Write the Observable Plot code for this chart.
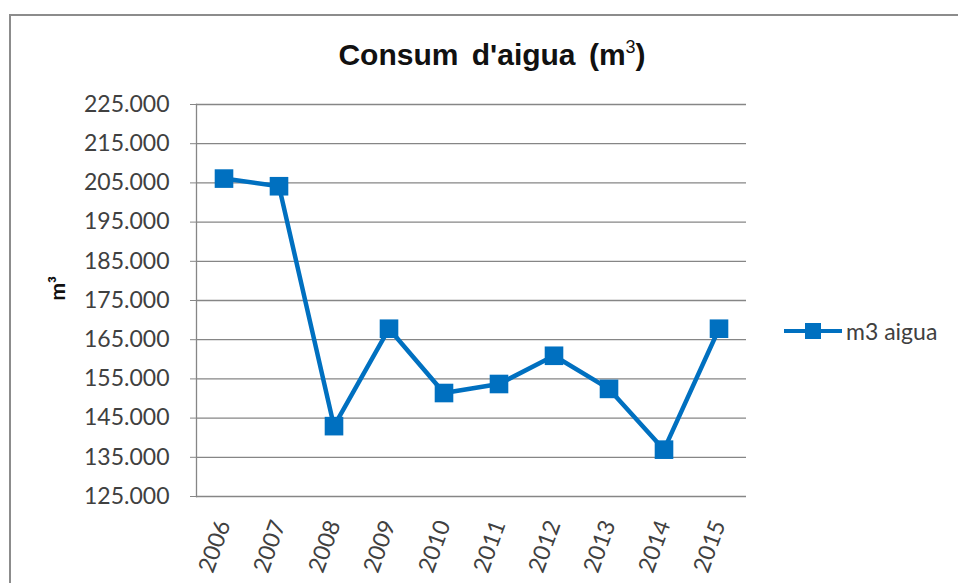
<!DOCTYPE html>
<html>
<head>
<meta charset="utf-8">
<script src="https://cdn.jsdelivr.net/npm/d3@7"></script>
<script src="https://cdn.jsdelivr.net/npm/@observablehq/plot@0.6"></script>
<style>
  html, body { margin: 0; padding: 0; background: #fff; overflow: hidden; }
  #wrap { position: relative; width: 958px; height: 583px; overflow: hidden; }
  #border { position: absolute; left: 9px; top: 14px; width: 1000px; height: 700px; border: 2px solid #8c8c8c; box-sizing: border-box; }
  #title { position: absolute; left: 0; width: 984px; top: 38px; text-align: center; font-family: "Liberation Sans", Arial, sans-serif; font-weight: bold; font-size: 30px; word-spacing: 5px; color: #111; line-height: 34px; }
  #title sup { font-size: 18px; font-weight: normal; vertical-align: 12px; line-height: 0; }
  #legend { position: absolute; left: 784px; top: 317px; display: flex; align-items: center; font-family: Lato, "Open Sans", sans-serif; font-size: 23px; color: #404040; }
  #chart { position: absolute; left: 0; top: 0; }
</style>
</head>
<body>
<div id="wrap">
  <div id="border"></div>
  <div id="chart"></div>
  <div id="title">Consum d'aigua (m<sup>3</sup>)</div>
  <div id="legend">
    <svg width="58" height="20" style="margin-right:4px"><line x1="0" y1="10" x2="58" y2="10" stroke="#0070C0" stroke-width="4"/><rect x="21" y="2" width="16" height="16" fill="#0070C0"/></svg>
    <span>m3 aigua</span>
  </div>
</div>
<script>
const years = ["2006","2007","2008","2009","2010","2011","2012","2013","2014","2015"];
const values = [206100, 204150, 142950, 167800, 151400, 153700, 160900, 152450, 136950, 167800];
const yTicks = [125000,135000,145000,155000,165000,175000,185000,195000,205000,215000,225000];
const seriesName = "m3 aigua";
const yLabel = "m³";

const data = years.map((y, i) => ({year: y, value: values[i]}));
const fmt = d => d3.format(",")(d).replace(/,/g, ".");

const chart = Plot.plot({
  width: 958,
  height: 583,
  marginLeft: 196,
  marginRight: 212,
  marginTop: 104,
  marginBottom: 87,
  style: {background: "transparent", fontFamily: "Lato, 'Open Sans', sans-serif"},
  x: {type: "band", domain: years, padding: 0},
  y: {domain: [125000, 225000]},
  marks: [
    Plot.gridY(yTicks, {stroke: "#868686", strokeOpacity: 1, strokeWidth: 1.3}),
    Plot.frame({anchor: "left", stroke: "#868686", strokeWidth: 1.3}),
    Plot.axisY(yTicks, {tickFormat: fmt, tickSize: 6, tickPadding: 21, fontSize: 23, fill: "#404040", stroke: "#868686", label: null}),
    Plot.axisX({tickRotate: -70, tickSize: 0, tickPadding: 25, fontSize: 23, fill: "#404040", label: null}),
    Plot.text([yLabel], {frameAnchor: "left", text: d => d, rotate: -90, dx: -138, fontWeight: "bold", fontSize: 21, fill: "#111"}),
    Plot.line(data, {x: "year", y: "value", stroke: "#0070C0", strokeWidth: 4.5}),
    Plot.dot(data, {x: "year", y: "value", symbol: "square", fill: "#0070C0", r: 10.5}),
  ]
});
document.getElementById("chart").appendChild(chart);
</script>
</body>
</html>
